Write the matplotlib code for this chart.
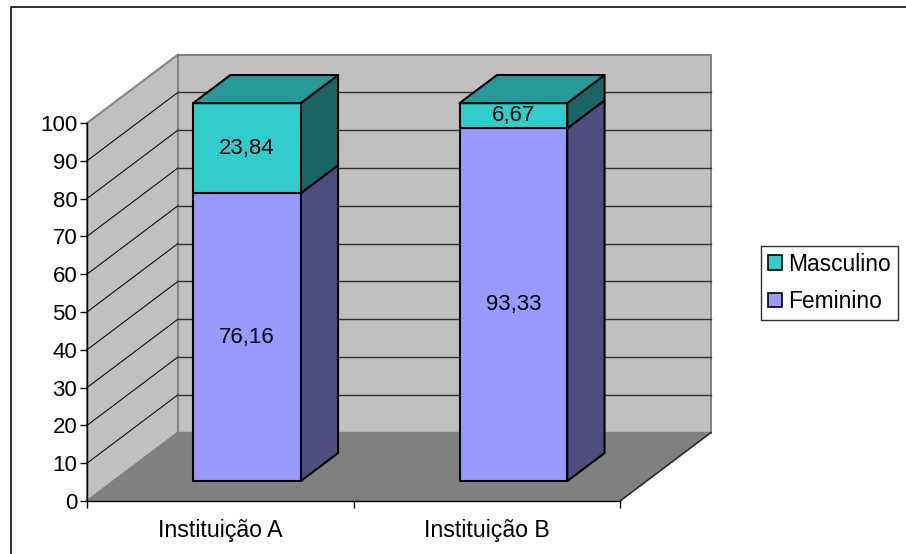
import matplotlib
matplotlib.use("Agg")
import matplotlib.pyplot as plt
from matplotlib.lines import Line2D
from matplotlib.patches import Polygon, Patch

plt.rcParams["font.family"] = ["Liberation Sans", "DejaVu Sans"]

categories = ["Instituição A", "Instituição B"]
series_names = ["Feminino", "Masculino"]
feminino = [76.16, 93.33]
masculino = [23.84, 6.67]
value_ticks = [0, 10, 20, 30, 40, 50, 60, 70, 80, 90, 100]
value_labels = {76.16: "76,16", 93.33: "93,33", 23.84: "23,84", 6.67: "6,67"}

# 3d look: how far the back wall is shifted from the front plane, in data units
DEPTH_X = 0.3415
DEPTH_Y = 18.12
BAR_LEFT = 0.299
BAR_WIDTH = 0.404
BAR_D0 = 0.29
BAR_D1 = 0.70
FONT = 16

FRONT = {"Feminino": "#9999FF", "Masculino": "#33CCCC"}
SIDE = {"Feminino": "#4D4D80", "Masculino": "#1A6666"}
TOP = {"Feminino": "#7373BF", "Masculino": "#269999"}


def proj(x, v, d):
    """ category position, value and depth -> flat data coordinates """
    return (x + d * DEPTH_X, v + d * DEPTH_Y)


def face(ax, pts, color, edge="black", lw=1.5, z=2):
    ax.add_patch(Polygon([proj(*p) for p in pts], closed=True, facecolor=color,
                         edgecolor=edge, linewidth=lw, joinstyle="round",
                         clip_on=False, zorder=z))


def draw_segment(ax, x0, x1, low, high, name, with_top):
    z = 3 if with_top else 2
    face(ax, [(x1, low, BAR_D0), (x1, low, BAR_D1), (x1, high, BAR_D1), (x1, high, BAR_D0)], SIDE[name], z=z)
    face(ax, [(x0, low, BAR_D0), (x1, low, BAR_D0), (x1, high, BAR_D0), (x0, high, BAR_D0)], FRONT[name], z=z)
    if with_top:
        face(ax, [(x0, high, BAR_D0), (x1, high, BAR_D0), (x1, high, BAR_D1), (x0, high, BAR_D1)], TOP[name], z=z)


fig = plt.figure(figsize=(9.06, 5.54), dpi=100)
W, H = 906, 554
ax = fig.add_axes([87 / W, 1 - 501 / H, 533 / W, 378 / H])
ax.set_xlim(0, 2)
ax.set_ylim(0, 100)
ax.patch.set_alpha(0)

# the chart frame only shows on the top and left, the rest is cut off
fig.add_artist(Line2D([10.5 / W, 10.5 / W, 1], [0, 1 - 6.5 / H, 1 - 6.5 / H], transform=fig.transFigure,
                      color="#202020", linewidth=1.3))

# walls and floor
wall = "#C0C0C0"
face(ax, [(0, 0, 0), (0, 100, 0), (0, 100, 1), (0, 0, 1)], wall, edge="#808080", lw=1.4, z=0)
face(ax, [(0, 0, 1), (2, 0, 1), (2, 100, 1), (0, 100, 1)], wall, edge="#808080", lw=1.4, z=0)
face(ax, [(0, 0, 0), (2, 0, 0), (2, 0, 1), (0, 0, 1)], "#808080", edge="#808080", lw=1, z=0)

# grid lines run along the side wall and then along the back wall
for v in value_ticks[1:-1]:
    xs, ys = zip(proj(0, v, 0), proj(0, v, 1))
    ax.plot(xs, ys, color="#101010", lw=0.8, zorder=1, clip_on=False)
    xs, ys = zip(proj(0, v, 1), proj(2, v, 1))
    ax.plot(xs, ys, color="#303030", lw=1, zorder=1, clip_on=False)
xs, ys = zip(proj(2, 0, 0), proj(2, 0, 1))
ax.plot(xs, ys, color="#202020", lw=1, zorder=1, clip_on=False)

# stacked bars
for i, cat in enumerate(categories):
    x0 = i + BAR_LEFT
    x1 = x0 + BAR_WIDTH
    f, m = feminino[i], masculino[i]
    draw_segment(ax, x0, x1, 0, f, "Feminino", False)
    draw_segment(ax, x0, x1, f, f + m, "Masculino", True)
    cx = (x0 + x1) / 2
    ax.text(*proj(cx, f / 2, BAR_D0), value_labels[f], ha="center", va="center", fontsize=FONT, zorder=5)
    ax.text(*proj(cx, f + m / 2, BAR_D0), value_labels[m], ha="center", va="center", fontsize=FONT, zorder=5)

# axes
for s in ["top", "right"]:
    ax.spines[s].set_visible(False)
ax.spines["left"].set_zorder(6)
ax.spines["bottom"].set_zorder(6)
ax.spines["left"].set_linewidth(1)
ax.spines["bottom"].set_linewidth(1)
ax.set_yticks(value_ticks)
ax.set_yticklabels([str(v) for v in value_ticks], fontsize=FONT)
ax.set_xticks([0, 1, 2])
ax.set_xticklabels([])
ax.set_xticks([0.5, 1.5], categories, minor=True, fontsize=16.7)
ax.tick_params(axis="x", which="major", length=5, width=1)
ax.tick_params(axis="x", which="minor", length=0, pad=13)
ax.tick_params(axis="y", length=5, width=1, pad=2)

handles = [Patch(facecolor=FRONT[n], edgecolor="black", linewidth=1.2, label=n) for n in reversed(series_names)]
leg = fig.legend(handles=handles, loc="lower left", bbox_to_anchor=(761 / W, 1 - 320 / H),
                 bbox_transform=fig.transFigure, fontsize=16.4, fancybox=False, edgecolor="#303030",
                 framealpha=1, handlelength=0.6, handleheight=0.6, handletextpad=0.28,
                 labelspacing=0.63, borderpad=0.31, borderaxespad=0)
leg.get_frame().set_linewidth(1)

fig.savefig("out.png", dpi=100)
